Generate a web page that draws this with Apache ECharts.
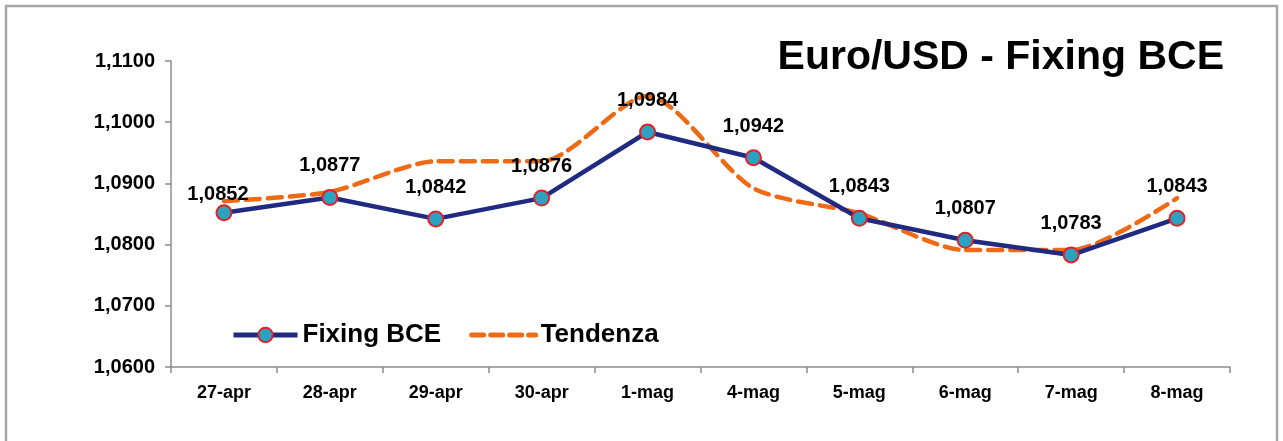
<!DOCTYPE html>
<html>
<head>
<meta charset="utf-8">
<script src="https://cdn.jsdelivr.net/npm/echarts@6/dist/echarts.min.js"></script>
<style>
html,body{margin:0;padding:0;background:#fff;}
#c{width:1283px;height:441px;}
</style>
</head>
<body>
<div id="c"></div>
<script>
const categories = ['27-apr','28-apr','29-apr','30-apr','1-mag','4-mag','5-mag','6-mag','7-mag','8-mag'];
const fixingBCE = [1.0852, 1.0877, 1.0842, 1.0876, 1.0984, 1.0942, 1.0843, 1.0807, 1.0783, 1.0843];
const tendenza = [1.0871, 1.0886, 1.0936, 1.0936, 1.1043, 1.0892, 1.0851, 1.0791, 1.0791, 1.0876];
const yTicks = { min: 1.06, max: 1.11, interval: 0.01 };

const fmt = (v, d) => v.toFixed(d).replace('.', ',');
const FONT = 'Liberation Sans, Arial, sans-serif';

const chart = echarts.init(document.getElementById('c'), null, { renderer: 'canvas' });

const fixingData = fixingBCE.map((v, i) => {
  if (i === 0) return { value: v, label: { offset: [-6, 13] } };
  return v;
});

chart.setOption({
  animation: false,
  backgroundColor: '#fff',
  graphic: [{
    type: 'rect',
    shape: { x: 6, y: 6, width: 1271, height: 450 },
    style: { fill: 'none', stroke: '#a6a6a6', lineWidth: 2.5 },
    silent: true
  }],
  title: {
    text: 'Euro/USD - Fixing BCE',
    right: 54,
    top: 32,
    textStyle: { fontFamily: FONT, fontWeight: 'bold', fontSize: 41, color: '#000' }
  },
  legend: {
    left: 226,
    top: 317,
    itemWidth: 64,
    itemHeight: 18,
    itemGap: 28,
    lineStyle: { width: 5 },
    textStyle: { fontFamily: FONT, fontWeight: 'bold', fontSize: 26, color: '#000' },
    data: [
      { name: 'Fixing BCE', lineStyle: { width: 5, color: '#1f2a80' },
        itemStyle: { color: '#2ba3c0', borderColor: '#e0222b', borderWidth: 2 } },
      { name: 'Tendenza', itemStyle: { color: 'rgba(0,0,0,0)', borderWidth: 0 },
        lineStyle: { width: 5, color: '#ef6a14', type: [12, 7] } }
    ]
  },
  grid: { left: 171, right: 53, top: 61, bottom: 74, containLabel: false },
  xAxis: {
    type: 'category',
    data: categories,
    boundaryGap: true,
    axisLine: { lineStyle: { color: '#8c8c8c', width: 1.5 } },
    axisTick: { show: true, length: 6, lineStyle: { color: '#8c8c8c', width: 1.5 } },
    axisLabel: { fontFamily: FONT, fontWeight: 'bold', fontSize: 18, color: '#000', margin: 17 },
    splitLine: { show: false }
  },
  yAxis: {
    type: 'value',
    min: yTicks.min,
    max: yTicks.max,
    interval: yTicks.interval,
    axisLine: { show: true, lineStyle: { color: '#8c8c8c', width: 1.5 } },
    axisTick: { show: true, length: 6, lineStyle: { color: '#8c8c8c', width: 1.5 } },
    axisLabel: { fontFamily: FONT, fontWeight: 'bold', fontSize: 20, color: '#000', margin: 16,
      formatter: v => fmt(v, 4) },
    splitLine: { show: false }
  },
  series: [
    {
      name: 'Tendenza',
      type: 'line',
      data: tendenza,
      smooth: 0.25,
      symbol: 'none',
      z: 2,
      lineStyle: { color: '#ef6a14', width: 4.5, type: [14, 8], cap: 'round' },
      itemStyle: { color: '#ef6a14' }
    },
    {
      name: 'Fixing BCE',
      type: 'line',
      data: fixingData,
      symbol: 'circle',
      symbolSize: 15,
      z: 3,
      lineStyle: { color: '#1f2a80', width: 4.5 },
      itemStyle: { color: '#2ba3c0', borderColor: '#e0222b', borderWidth: 2 },
      label: {
        show: true,
        position: 'top',
        distance: 13,
        fontFamily: FONT,
        fontWeight: 'bold',
        fontSize: 20,
        color: '#000',
        formatter: p => fmt(p.value, 4)
      }
    }
  ]
});
</script>
</body>
</html>
